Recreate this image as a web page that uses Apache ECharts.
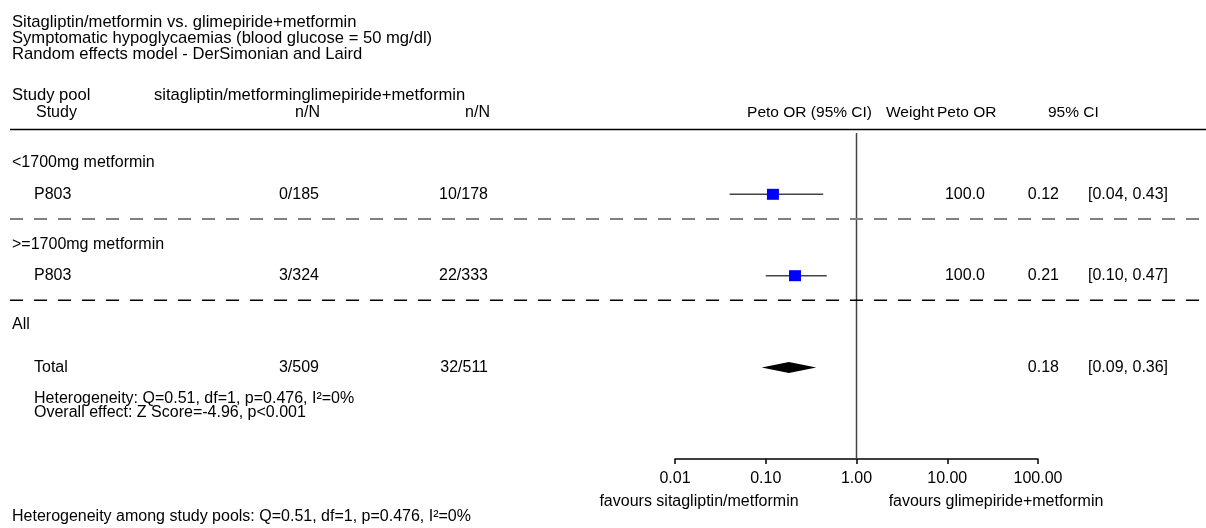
<!DOCTYPE html>
<html><head><meta charset="utf-8">
<script src="https://cdn.jsdelivr.net/npm/echarts@6/dist/echarts.min.js"></script>
<style>html,body{margin:0;padding:0;background:#fff}#c{width:1206px;height:528px}</style>
</head><body><div id="c"></div>
<script>
// ---------- data ----------
const titleLines = [
  'Sitagliptin/metformin vs. glimepiride+metformin',
  'Symptomatic hypoglycaemias (blood glucose = 50 mg/dl)',
  'Random effects model - DerSimonian and Laird'
];
const headerPool = 'Study pool';
const headerStudy = 'Study';
const headerArms = 'sitagliptin/metforminglimepiride+metformin';
const headerCount = 'n/N';
const headerRight = ['Peto OR (95% CI)', 'Weight', 'Peto OR', '95% CI'];
const groupLabels = ['<1700mg metformin', '>=1700mg metformin'];
const studyLabels = ['P803', 'P803'];
const sitaCounts = ['0/185', '3/324'];
const glimCounts = ['10/178', '22/333'];
const studyWeights = [100.0, 100.0];
const studyOR = [0.12, 0.21];
const studyLow = [0.04, 0.10];
const studyHigh = [0.43, 0.47];
const allLabel = 'All';
const totalLabel = 'Total';
const totalSita = '3/509';
const totalGlim = '32/511';
const totalOR = [0.18];
const totalLow = [0.09];
const totalHigh = [0.36];
const hetText = 'Heterogeneity: Q=0.51, df=1, p=0.476, I\u00b2=0%';
const effectText = 'Overall effect: Z Score=-4.96, p<0.001';
const poolHetText = 'Heterogeneity among study pools: Q=0.51, df=1, p=0.476, I\u00b2=0%';
const tickValues = [0.01, 0.1, 1, 10, 100];
const tickLabels = ['0.01', '0.10', '1.00', '10.00', '100.00'];
const favourLeft = 'favours sitagliptin/metformin';
const favourRight = 'favours glimepiride+metformin';

// ---------- layout ----------
const FAMILY = '"Liberation Sans", Arial, sans-serif';
const FONT = '16px ' + FAMILY;
const FONT_TITLE = '16.6px ' + FAMILY;
const FONT_HEAD1 = '16.6px ' + FAMILY;
const FONT_HEAD2 = '16px ' + FAMILY;
const FONT_HEAD3 = '15.5px ' + FAMILY;
const LY = {
  title: [22, 38, 54], pool: 95, study: 113, rule: 129.5,
  group: [163, 245], row: [194.3, 275.7], dash: [219, 300.3],
  all: 325, total: 367.4, het: 399, eff: 413,
  favour: 502, bottom: 517, plotTop: 133, plotBottom: 459
};
const LX = {
  label: 12, indent: 34, studyHead: 36, arms: 154, sita: 319, glim: 488,
  hPeto: 872, hWeight: 886, hOR: 937, hCI: 1048,
  weight: 985, or: 1059, ci: 1088, ruleL: 10, ruleR: 1206,
  favL: 699, favR: 996
};
const dashColors = ['#808080', '#000000'];
const dashWidths = [2, 1.5];

function fmt2(v) { return v.toFixed(2); }

// rows of the table (texts placed through the y axis)
const rows = [];
groupLabels.forEach((g, i) => {
  rows.push({ y: LY.group[i], texts: [[g, LX.label, 'left']] });
  rows.push({ y: LY.row[i], texts: [
    [studyLabels[i], LX.indent, 'left'],
    [sitaCounts[i], LX.sita, 'right'],
    [glimCounts[i], LX.glim, 'right'],
    [studyWeights[i].toFixed(1), LX.weight, 'right'],
    [fmt2(studyOR[i]), LX.or, 'right'],
    ['[' + fmt2(studyLow[i]) + ', ' + fmt2(studyHigh[i]) + ']', LX.ci, 'left']
  ]});
});
rows.push({ y: LY.all, texts: [[allLabel, LX.label, 'left']] });
rows.push({ y: LY.total, texts: [
  [totalLabel, LX.indent, 'left'],
  [totalSita, LX.sita, 'right'],
  [totalGlim, LX.glim, 'right'],
  [fmt2(totalOR[0]), LX.or, 'right'],
  ['[' + fmt2(totalLow[0]) + ', ' + fmt2(totalHigh[0]) + ']', LX.ci, 'left']
]});
rows.push({ y: LY.het, texts: [[hetText, LX.indent, 'left']] });
rows.push({ y: LY.eff, texts: [[effectText, LX.indent, 'left']] });

const studyMarks = studyOR.map((v, i) => [v, studyLow[i], studyHigh[i], LY.row[i]]);
const totalMarks = totalOR.map((v, i) => [v, totalLow[i], totalHigh[i], LY.total]);

function txt(t, x, y, align, font) {
  return { type: 'text', x: x, y: y, silent: true,
    style: { text: t, fill: '#000', font: font || FONT, textAlign: align, textVerticalAlign: 'middle' } };
}

const staticTexts = [];
titleLines.forEach((t, i) => staticTexts.push(txt(t, LX.label, LY.title[i], 'left', FONT_TITLE)));
staticTexts.push(txt(headerPool, LX.label, LY.pool, 'left', FONT_HEAD1));
staticTexts.push(txt(headerArms, LX.arms, LY.pool, 'left', FONT_HEAD1));
staticTexts.push(txt(headerStudy, LX.studyHead, LY.study, 'left', FONT_HEAD2));
staticTexts.push(txt(headerCount, LX.sita + 1, LY.study, 'right', FONT_HEAD2));
staticTexts.push(txt(headerCount, LX.glim + 2, LY.study, 'right', FONT_HEAD2));
staticTexts.push(txt(headerRight[0], LX.hPeto, LY.study, 'right', FONT_HEAD3));
staticTexts.push(txt(headerRight[1], LX.hWeight, LY.study, 'left', FONT_HEAD3));
staticTexts.push(txt(headerRight[2], LX.hOR, LY.study, 'left', FONT_HEAD3));
staticTexts.push(txt(headerRight[3], LX.hCI, LY.study, 'left', FONT_HEAD3));
staticTexts.push(txt(favourLeft, LX.favL, LY.favour, 'center'));
staticTexts.push(txt(favourRight, LX.favR, LY.favour, 'center'));
staticTexts.push(txt(poolHetText, LX.label, LY.bottom, 'left'));
staticTexts.push({ type: 'line', silent: true,
  shape: { x1: LX.ruleL, y1: LY.rule, x2: LX.ruleR, y2: LY.rule },
  style: { stroke: '#000', lineWidth: 1.5 } });

const chart = echarts.init(document.getElementById('c'), null, { renderer: 'canvas', width: 1206, height: 528 });
chart.setOption({
  animation: false,
  backgroundColor: '#fff',
  grid: { left: 675, right: 168, top: LY.plotTop, bottom: 528 - LY.plotBottom, containLabel: false },
  xAxis: {
    type: 'log', logBase: 10, min: tickValues[0], max: tickValues[tickValues.length - 1], splitNumber: 4,
    axisLine: { show: true, lineStyle: { color: '#000', width: 1.5 } },
    axisTick: { show: true, length: 5, lineStyle: { color: '#000', width: 1.5 } },
    axisLabel: {
      color: '#000', fontSize: 16, fontFamily: FAMILY, margin: 12,
      showMinLabel: true, showMaxLabel: true, hideOverlap: false,
      formatter: function (v) {
        const e = Math.round(Math.log10(v));
        const idx = tickValues.findIndex(t => Math.round(Math.log10(t)) === e);
        return idx >= 0 ? tickLabels[idx] : '';
      }
    },
    splitLine: { show: false }, minorTick: { show: false }
  },
  yAxis: { type: 'value', inverse: true, min: LY.plotTop, max: LY.plotBottom, show: false },
  graphic: { elements: staticTexts },
  series: [
    { // reference line at OR = 1
      type: 'custom', clip: false, silent: true,
      data: [[1, LY.plotTop, LY.plotBottom]],
      renderItem: function (p, api) {
        const a = api.coord([api.value(0), api.value(1)]);
        const b = api.coord([api.value(0), api.value(2)]);
        return { type: 'line', shape: { x1: a[0], y1: a[1], x2: b[0], y2: b[1] },
          style: { stroke: '#444', lineWidth: 1.5 } };
      }
    },
    { // dashed separators
      type: 'custom', clip: false, silent: true,
      data: LY.dash.map(y => [1, y]),
      renderItem: function (p, api) {
        const y = api.coord([1, api.value(1)])[1];
        return { type: 'line', shape: { x1: LX.ruleL, y1: y, x2: LX.ruleR, y2: y },
          style: { stroke: dashColors[p.dataIndex], lineWidth: dashWidths[p.dataIndex], lineDash: [13, 11] } };
      }
    },
    { // table text rows
      type: 'custom', clip: false, silent: true,
      data: rows.map(r => [1, r.y]),
      renderItem: function (p, api) {
        const y = api.coord([1, api.value(1)])[1];
        return { type: 'group', children: rows[p.dataIndex].texts.map(t => txt(t[0], t[1], y, t[2])) };
      }
    },
    { // study CIs and squares
      type: 'custom', clip: false, silent: true,
      data: studyMarks,
      renderItem: function (p, api) {
        const c = api.coord([api.value(0), api.value(3)]);
        const lo = api.coord([api.value(1), api.value(3)]);
        const hi = api.coord([api.value(2), api.value(3)]);
        return { type: 'group', children: [
          { type: 'line', shape: { x1: lo[0], y1: lo[1], x2: hi[0], y2: hi[1] },
            style: { stroke: '#444', lineWidth: 1.5 } },
          { type: 'rect', shape: { x: c[0] - 6, y: c[1] - 5.5, width: 12, height: 11 },
            style: { fill: '#0000ff' } }
        ]};
      }
    },
    { // pooled diamond
      type: 'custom', clip: false, silent: true,
      data: totalMarks,
      renderItem: function (p, api) {
        const c = api.coord([api.value(0), api.value(3)]);
        const lo = api.coord([api.value(1), api.value(3)]);
        const hi = api.coord([api.value(2), api.value(3)]);
        return { type: 'polygon', shape: { points: [[lo[0], c[1]], [c[0], c[1] - 5.5], [hi[0], c[1]], [c[0], c[1] + 5.5]] },
          style: { fill: '#000' } };
      }
    }
  ]
});
</script>
</body></html>
